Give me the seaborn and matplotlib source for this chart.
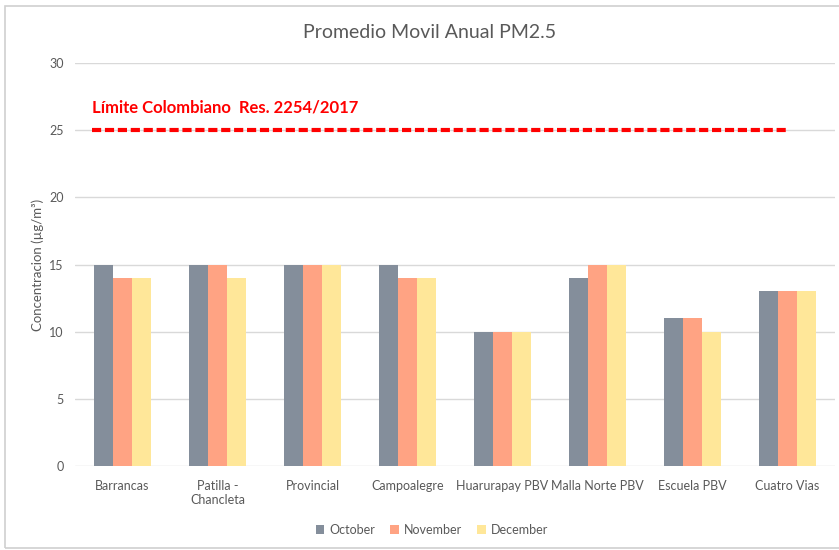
import matplotlib
matplotlib.use("Agg")
import matplotlib.pyplot as plt
import seaborn as sns
import pandas as pd
from matplotlib.patches import Rectangle

categories = ["Barrancas", "Patilla -\nChancleta", "Provincial", "Campoalegre",
              "Huarurapay PBV", "Malla Norte PBV", "Escuela PBV", "Cuatro Vias"]
months = ["October", "November", "December"]
october = [15, 15, 15, 15, 10, 14, 11, 13]
november = [14, 15, 15, 14, 10, 15, 11, 13]
december = [14, 14, 15, 14, 10, 15, 10, 13]
limit_value = 25
limit_label = "Límite Colombiano  Res. 2254/2017"
yticks = [0, 5, 10, 15, 20, 25, 30]

rows = []
for m, vals in zip(months, [october, november, december]):
    for c, v in zip(categories, vals):
        rows.append({"Estacion": c, "Mes": m, "Valor": v})
df = pd.DataFrame(rows)

sns.set_theme(style="white")
plt.rcParams["font.family"] = ["Lato", "DejaVu Sans"]

text_color = "#595959"
grid_color = "#D9D9D9"
palette = {"October": "#848E9B", "November": "#FFA383", "December": "#FFE799"}

fig = plt.figure(figsize=(8.39, 5.5), dpi=100)
ax = fig.add_axes([75 / 839, (550 - 466) / 550, 760 / 839, (466 - 63) / 550])

sns.barplot(data=df, x="Estacion", y="Valor", hue="Mes", palette=palette,
            width=0.59, ax=ax, saturation=1, edgecolor="none", legend=True)

ax.set_ylim(0, 30)
ax.set_xlim(-0.5, len(categories) - 0.5)
ax.set_yticks(yticks)
ax.yaxis.grid(True, color=grid_color, linewidth=1)
ax.set_axisbelow(True)
for s in ax.spines.values():
    s.set_visible(False)
ax.tick_params(axis="both", length=0, colors=text_color, labelsize=9)
ax.tick_params(axis="x", pad=10)
ax.tick_params(axis="y", pad=8)
ax.set_xlabel("")
ax.set_ylabel("Concentracion (µg/m³)", color=text_color, fontsize=9.5)
ax.yaxis.set_label_coords((44 - 75) / 760, 0.5)

ax.axhline(limit_value, xmin=17 / 760, xmax=714 / 760, color="#FF0000",
           linewidth=3, linestyle=(0, (2.2, 0.9)))
ax.text(17 / 760, (limit_value + 1.1) / 30, limit_label, transform=ax.transAxes,
        color="#FF0000", fontsize=12, fontweight="bold", ha="left", va="bottom")

fig.text(430 / 839, 1 - 32 / 550, "Promedio Movil Anual PM2.5", ha="center",
         va="center", fontsize=14, color=text_color)

handles, labels = ax.get_legend_handles_labels()
ax.legend_.remove()
fig.legend(handles, labels, loc="center", bbox_to_anchor=(432 / 839, 1 - 530 / 550),
           ncol=3, frameon=False, fontsize=9, handlelength=0.7, handleheight=0.7,
           handletextpad=0.4, columnspacing=1.2, labelcolor=text_color)

fig.patches.append(Rectangle((5 / 839, 2 / 550), 1.0, 1 - 8 / 550,
                             transform=fig.transFigure, fill=False,
                             edgecolor="#D0D0D0", linewidth=1.2))

fig.savefig("out.png", dpi=100)
